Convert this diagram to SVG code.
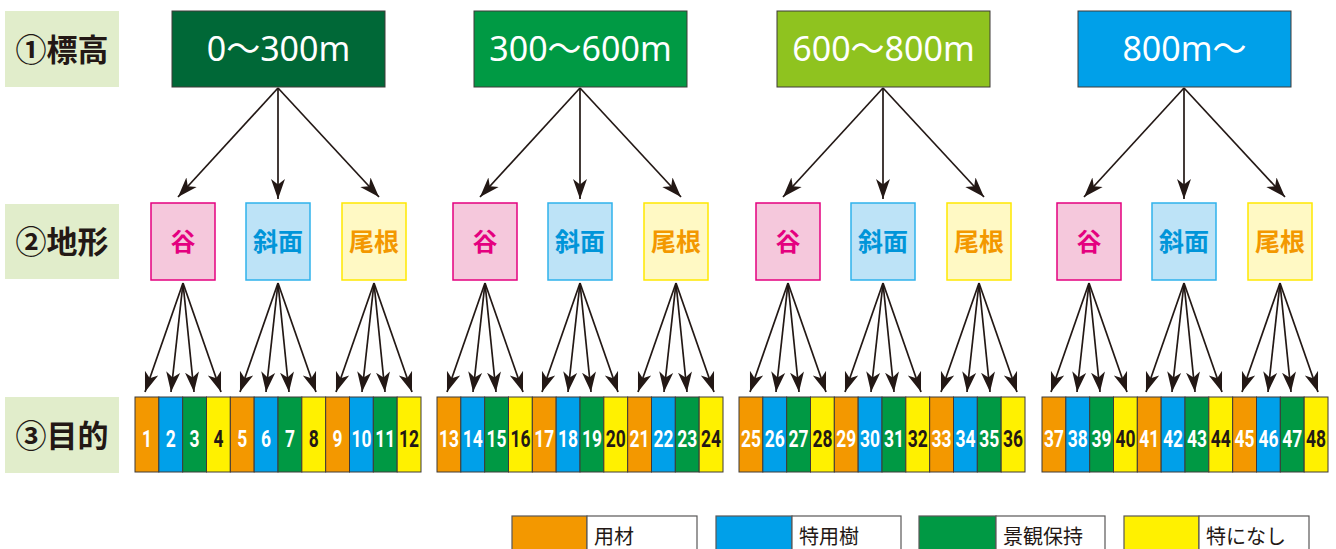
<svg xmlns="http://www.w3.org/2000/svg" width="1336" height="549" viewBox="0 0 1336 549">
<defs>
<style>
.lab{fill:#e1edcb}
.labt{font-family:"Noto Sans CJK JP",sans-serif;font-weight:bold;font-size:31px;fill:#231815;text-anchor:middle}
.top{stroke:#3e3a39;stroke-width:1}
.topt{font-family:"Noto Sans","Noto Sans CJK JP",sans-serif;font-size:34px;fill:#ffffff;text-anchor:middle}
.t2{font-family:"Noto Sans CJK JP",sans-serif;font-weight:bold;font-size:25px;text-anchor:middle}
.tani{fill:#f5c8dc;stroke:#e4007f;stroke-width:1.5}
.sha{fill:#bde3f7;stroke:#2fb2ec;stroke-width:1.5}
.one{fill:#fff9c4;stroke:#ffe800;stroke-width:1.5}
.cell rect{stroke:#3e3a39;stroke-width:1}
.o{fill:#f39800}.b{fill:#00a0e9}.g{fill:#009944}.y{fill:#fff100}
.n{font-family:Roboto,"Liberation Sans",sans-serif;font-weight:bold;font-size:23px;text-anchor:middle}
.w{fill:#ffffff}.k{fill:#231815}
.conn line{stroke:#231815;stroke-width:1.7;marker-end:url(#ah)}
.leg rect{stroke:#595757;stroke-width:1.2}
.legt{font-family:"Noto Sans CJK JP",sans-serif;font-size:20px;fill:#231815}
</style>
<marker id="ah" viewBox="-20 -8 20 16" refX="0" refY="0" markerWidth="20" markerHeight="16" markerUnits="userSpaceOnUse" orient="auto">
<path d="M0,0 L-20,-7 L-14.5,0 L-20,7 z" fill="#231815"/>
</marker>
</defs>
<rect width="1336" height="549" fill="#ffffff"/>

<g id="label1"><rect class="lab" x="5" y="11" width="114" height="76"/><text class="labt" x="62" y="61">①標高</text></g>
<g id="label2"><rect class="lab" x="5" y="204" width="114" height="75"/><text class="labt" x="62" y="253">②地形</text></g>
<g id="label3"><rect class="lab" x="5" y="397" width="114" height="76"/><text class="labt" x="62" y="447">③目的</text></g>

<g id="elev1"><rect class="top" x="172" y="11" width="213" height="76" fill="#006837"/><text class="topt" x="278.5" y="61">0～300m</text></g>
<g id="elev2"><rect class="top" x="474" y="11" width="213" height="76" fill="#009a44"/><text class="topt" x="580.5" y="61">300～600m</text></g>
<g id="elev3"><rect class="top" x="777" y="11" width="213" height="76" fill="#8fc31f"/><text class="topt" x="883.5" y="61">600～800m</text></g>
<g id="elev4"><rect class="top" x="1078" y="11" width="213" height="76" fill="#00a0e9"/><text class="topt" x="1184.5" y="61">800m～</text></g>

<g id="terrain1" transform="translate(0,0)">
<g id="tani1"><rect class="tani" x="151" y="203" width="64" height="77"/><text class="t2" x="183" y="251" fill="#e4007f">谷</text></g>
<g id="shamen1"><rect class="sha" x="246" y="203" width="64" height="77"/><text class="t2" x="278" y="251" fill="#0095d9">斜面</text></g>
<g id="one1"><rect class="one" x="342" y="203" width="64" height="77"/><text class="t2" x="374" y="251" fill="#f39800">尾根</text></g>
</g>
<g id="terrain2" transform="translate(302,0)">
<g id="tani2"><rect class="tani" x="151" y="203" width="64" height="77"/><text class="t2" x="183" y="251" fill="#e4007f">谷</text></g>
<g id="shamen2"><rect class="sha" x="246" y="203" width="64" height="77"/><text class="t2" x="278" y="251" fill="#0095d9">斜面</text></g>
<g id="one2"><rect class="one" x="342" y="203" width="64" height="77"/><text class="t2" x="374" y="251" fill="#f39800">尾根</text></g>
</g>
<g id="terrain3" transform="translate(605,0)">
<g id="tani3"><rect class="tani" x="151" y="203" width="64" height="77"/><text class="t2" x="183" y="251" fill="#e4007f">谷</text></g>
<g id="shamen3"><rect class="sha" x="246" y="203" width="64" height="77"/><text class="t2" x="278" y="251" fill="#0095d9">斜面</text></g>
<g id="one3"><rect class="one" x="342" y="203" width="64" height="77"/><text class="t2" x="374" y="251" fill="#f39800">尾根</text></g>
</g>
<g id="terrain4" transform="translate(906,0)">
<g id="tani4"><rect class="tani" x="151" y="203" width="64" height="77"/><text class="t2" x="183" y="251" fill="#e4007f">谷</text></g>
<g id="shamen4"><rect class="sha" x="246" y="203" width="64" height="77"/><text class="t2" x="278" y="251" fill="#0095d9">斜面</text></g>
<g id="one4"><rect class="one" x="342" y="203" width="64" height="77"/><text class="t2" x="374" y="251" fill="#f39800">尾根</text></g>
</g>

<g id="cells1" class="cell" transform="translate(0,0)">
<g id="c1"><rect class="o" x="135" y="397" width="23.83" height="75"/><text class="n w" x="146.9" y="447" textLength="10" lengthAdjust="spacingAndGlyphs">1</text></g>
<g id="c2"><rect class="b" x="158.83" y="397" width="23.83" height="75"/><text class="n w" x="170.7" y="447" textLength="10" lengthAdjust="spacingAndGlyphs">2</text></g>
<g id="c3"><rect class="g" x="182.67" y="397" width="23.83" height="75"/><text class="n w" x="194.6" y="447" textLength="10" lengthAdjust="spacingAndGlyphs">3</text></g>
<g id="c4"><rect class="y" x="206.5" y="397" width="23.83" height="75"/><text class="n k" x="218.4" y="447" textLength="10" lengthAdjust="spacingAndGlyphs">4</text></g>
<g id="c5"><rect class="o" x="230.33" y="397" width="23.83" height="75"/><text class="n w" x="242.2" y="447" textLength="10" lengthAdjust="spacingAndGlyphs">5</text></g>
<g id="c6"><rect class="b" x="254.17" y="397" width="23.83" height="75"/><text class="n w" x="266.1" y="447" textLength="10" lengthAdjust="spacingAndGlyphs">6</text></g>
<g id="c7"><rect class="g" x="278" y="397" width="23.83" height="75"/><text class="n w" x="289.9" y="447" textLength="10" lengthAdjust="spacingAndGlyphs">7</text></g>
<g id="c8"><rect class="y" x="301.83" y="397" width="23.83" height="75"/><text class="n k" x="313.7" y="447" textLength="10" lengthAdjust="spacingAndGlyphs">8</text></g>
<g id="c9"><rect class="o" x="325.67" y="397" width="23.83" height="75"/><text class="n w" x="337.6" y="447" textLength="10" lengthAdjust="spacingAndGlyphs">9</text></g>
<g id="c10"><rect class="b" x="349.5" y="397" width="23.83" height="75"/><text class="n w" x="361.4" y="447" textLength="20" lengthAdjust="spacingAndGlyphs">10</text></g>
<g id="c11"><rect class="g" x="373.33" y="397" width="23.83" height="75"/><text class="n w" x="385.2" y="447" textLength="20" lengthAdjust="spacingAndGlyphs">11</text></g>
<g id="c12"><rect class="y" x="397.17" y="397" width="23.83" height="75"/><text class="n k" x="409.1" y="447" textLength="20" lengthAdjust="spacingAndGlyphs">12</text></g>
</g>
<g id="cells2" class="cell" transform="translate(302,0)">
<g id="c13"><rect class="o" x="135" y="397" width="23.83" height="75"/><text class="n w" x="146.9" y="447" textLength="20" lengthAdjust="spacingAndGlyphs">13</text></g>
<g id="c14"><rect class="b" x="158.83" y="397" width="23.83" height="75"/><text class="n w" x="170.7" y="447" textLength="20" lengthAdjust="spacingAndGlyphs">14</text></g>
<g id="c15"><rect class="g" x="182.67" y="397" width="23.83" height="75"/><text class="n w" x="194.6" y="447" textLength="20" lengthAdjust="spacingAndGlyphs">15</text></g>
<g id="c16"><rect class="y" x="206.5" y="397" width="23.83" height="75"/><text class="n k" x="218.4" y="447" textLength="20" lengthAdjust="spacingAndGlyphs">16</text></g>
<g id="c17"><rect class="o" x="230.33" y="397" width="23.83" height="75"/><text class="n w" x="242.2" y="447" textLength="20" lengthAdjust="spacingAndGlyphs">17</text></g>
<g id="c18"><rect class="b" x="254.17" y="397" width="23.83" height="75"/><text class="n w" x="266.1" y="447" textLength="20" lengthAdjust="spacingAndGlyphs">18</text></g>
<g id="c19"><rect class="g" x="278" y="397" width="23.83" height="75"/><text class="n w" x="289.9" y="447" textLength="20" lengthAdjust="spacingAndGlyphs">19</text></g>
<g id="c20"><rect class="y" x="301.83" y="397" width="23.83" height="75"/><text class="n k" x="313.7" y="447" textLength="20" lengthAdjust="spacingAndGlyphs">20</text></g>
<g id="c21"><rect class="o" x="325.67" y="397" width="23.83" height="75"/><text class="n w" x="337.6" y="447" textLength="20" lengthAdjust="spacingAndGlyphs">21</text></g>
<g id="c22"><rect class="b" x="349.5" y="397" width="23.83" height="75"/><text class="n w" x="361.4" y="447" textLength="20" lengthAdjust="spacingAndGlyphs">22</text></g>
<g id="c23"><rect class="g" x="373.33" y="397" width="23.83" height="75"/><text class="n w" x="385.2" y="447" textLength="20" lengthAdjust="spacingAndGlyphs">23</text></g>
<g id="c24"><rect class="y" x="397.17" y="397" width="23.83" height="75"/><text class="n k" x="409.1" y="447" textLength="20" lengthAdjust="spacingAndGlyphs">24</text></g>
</g>
<g id="cells3" class="cell" transform="translate(604,0)">
<g id="c25"><rect class="o" x="135" y="397" width="23.83" height="75"/><text class="n w" x="146.9" y="447" textLength="20" lengthAdjust="spacingAndGlyphs">25</text></g>
<g id="c26"><rect class="b" x="158.83" y="397" width="23.83" height="75"/><text class="n w" x="170.7" y="447" textLength="20" lengthAdjust="spacingAndGlyphs">26</text></g>
<g id="c27"><rect class="g" x="182.67" y="397" width="23.83" height="75"/><text class="n w" x="194.6" y="447" textLength="20" lengthAdjust="spacingAndGlyphs">27</text></g>
<g id="c28"><rect class="y" x="206.5" y="397" width="23.83" height="75"/><text class="n k" x="218.4" y="447" textLength="20" lengthAdjust="spacingAndGlyphs">28</text></g>
<g id="c29"><rect class="o" x="230.33" y="397" width="23.83" height="75"/><text class="n w" x="242.2" y="447" textLength="20" lengthAdjust="spacingAndGlyphs">29</text></g>
<g id="c30"><rect class="b" x="254.17" y="397" width="23.83" height="75"/><text class="n w" x="266.1" y="447" textLength="20" lengthAdjust="spacingAndGlyphs">30</text></g>
<g id="c31"><rect class="g" x="278" y="397" width="23.83" height="75"/><text class="n w" x="289.9" y="447" textLength="20" lengthAdjust="spacingAndGlyphs">31</text></g>
<g id="c32"><rect class="y" x="301.83" y="397" width="23.83" height="75"/><text class="n k" x="313.7" y="447" textLength="20" lengthAdjust="spacingAndGlyphs">32</text></g>
<g id="c33"><rect class="o" x="325.67" y="397" width="23.83" height="75"/><text class="n w" x="337.6" y="447" textLength="20" lengthAdjust="spacingAndGlyphs">33</text></g>
<g id="c34"><rect class="b" x="349.5" y="397" width="23.83" height="75"/><text class="n w" x="361.4" y="447" textLength="20" lengthAdjust="spacingAndGlyphs">34</text></g>
<g id="c35"><rect class="g" x="373.33" y="397" width="23.83" height="75"/><text class="n w" x="385.2" y="447" textLength="20" lengthAdjust="spacingAndGlyphs">35</text></g>
<g id="c36"><rect class="y" x="397.17" y="397" width="23.83" height="75"/><text class="n k" x="409.1" y="447" textLength="20" lengthAdjust="spacingAndGlyphs">36</text></g>
</g>
<g id="cells4" class="cell" transform="translate(907,0)">
<g id="c37"><rect class="o" x="135" y="397" width="23.83" height="75"/><text class="n w" x="146.9" y="447" textLength="20" lengthAdjust="spacingAndGlyphs">37</text></g>
<g id="c38"><rect class="b" x="158.83" y="397" width="23.83" height="75"/><text class="n w" x="170.7" y="447" textLength="20" lengthAdjust="spacingAndGlyphs">38</text></g>
<g id="c39"><rect class="g" x="182.67" y="397" width="23.83" height="75"/><text class="n w" x="194.6" y="447" textLength="20" lengthAdjust="spacingAndGlyphs">39</text></g>
<g id="c40"><rect class="y" x="206.5" y="397" width="23.83" height="75"/><text class="n k" x="218.4" y="447" textLength="20" lengthAdjust="spacingAndGlyphs">40</text></g>
<g id="c41"><rect class="o" x="230.33" y="397" width="23.83" height="75"/><text class="n w" x="242.2" y="447" textLength="20" lengthAdjust="spacingAndGlyphs">41</text></g>
<g id="c42"><rect class="b" x="254.17" y="397" width="23.83" height="75"/><text class="n w" x="266.1" y="447" textLength="20" lengthAdjust="spacingAndGlyphs">42</text></g>
<g id="c43"><rect class="g" x="278" y="397" width="23.83" height="75"/><text class="n w" x="289.9" y="447" textLength="20" lengthAdjust="spacingAndGlyphs">43</text></g>
<g id="c44"><rect class="y" x="301.83" y="397" width="23.83" height="75"/><text class="n k" x="313.7" y="447" textLength="20" lengthAdjust="spacingAndGlyphs">44</text></g>
<g id="c45"><rect class="o" x="325.67" y="397" width="23.83" height="75"/><text class="n w" x="337.6" y="447" textLength="20" lengthAdjust="spacingAndGlyphs">45</text></g>
<g id="c46"><rect class="b" x="349.5" y="397" width="23.83" height="75"/><text class="n w" x="361.4" y="447" textLength="20" lengthAdjust="spacingAndGlyphs">46</text></g>
<g id="c47"><rect class="g" x="373.33" y="397" width="23.83" height="75"/><text class="n w" x="385.2" y="447" textLength="20" lengthAdjust="spacingAndGlyphs">47</text></g>
<g id="c48"><rect class="y" x="397.17" y="397" width="23.83" height="75"/><text class="n k" x="409.1" y="447" textLength="20" lengthAdjust="spacingAndGlyphs">48</text></g>
</g>

<g id="connectors" class="conn">
<g transform="translate(0,0)">
<line x1="278" y1="88" x2="178" y2="197"/><line x1="278" y1="88" x2="278" y2="199"/><line x1="278" y1="88" x2="379" y2="197"/>
<line x1="183" y1="283" x2="145" y2="392"/><line x1="183" y1="283" x2="171" y2="392"/><line x1="183" y1="283" x2="194" y2="392"/><line x1="183" y1="283" x2="221" y2="392"/>
<line x1="278" y1="283" x2="240" y2="392"/><line x1="278" y1="283" x2="266" y2="392"/><line x1="278" y1="283" x2="289" y2="392"/><line x1="278" y1="283" x2="316" y2="392"/>
<line x1="374" y1="283" x2="336" y2="392"/><line x1="374" y1="283" x2="362" y2="392"/><line x1="374" y1="283" x2="385" y2="392"/><line x1="374" y1="283" x2="412" y2="392"/>
</g>
<g transform="translate(302,0)">
<line x1="278" y1="88" x2="178" y2="197"/><line x1="278" y1="88" x2="278" y2="199"/><line x1="278" y1="88" x2="379" y2="197"/>
<line x1="183" y1="283" x2="145" y2="392"/><line x1="183" y1="283" x2="171" y2="392"/><line x1="183" y1="283" x2="194" y2="392"/><line x1="183" y1="283" x2="221" y2="392"/>
<line x1="278" y1="283" x2="240" y2="392"/><line x1="278" y1="283" x2="266" y2="392"/><line x1="278" y1="283" x2="289" y2="392"/><line x1="278" y1="283" x2="316" y2="392"/>
<line x1="374" y1="283" x2="336" y2="392"/><line x1="374" y1="283" x2="362" y2="392"/><line x1="374" y1="283" x2="385" y2="392"/><line x1="374" y1="283" x2="412" y2="392"/>
</g>
<g transform="translate(605,0)">
<line x1="278" y1="88" x2="178" y2="197"/><line x1="278" y1="88" x2="278" y2="199"/><line x1="278" y1="88" x2="379" y2="197"/>
<line x1="183" y1="283" x2="145" y2="392"/><line x1="183" y1="283" x2="171" y2="392"/><line x1="183" y1="283" x2="194" y2="392"/><line x1="183" y1="283" x2="221" y2="392"/>
<line x1="278" y1="283" x2="240" y2="392"/><line x1="278" y1="283" x2="266" y2="392"/><line x1="278" y1="283" x2="289" y2="392"/><line x1="278" y1="283" x2="316" y2="392"/>
<line x1="374" y1="283" x2="336" y2="392"/><line x1="374" y1="283" x2="362" y2="392"/><line x1="374" y1="283" x2="385" y2="392"/><line x1="374" y1="283" x2="412" y2="392"/>
</g>
<g transform="translate(906,0)">
<line x1="278" y1="88" x2="178" y2="197"/><line x1="278" y1="88" x2="278" y2="199"/><line x1="278" y1="88" x2="379" y2="197"/>
<line x1="183" y1="283" x2="145" y2="392"/><line x1="183" y1="283" x2="171" y2="392"/><line x1="183" y1="283" x2="194" y2="392"/><line x1="183" y1="283" x2="221" y2="392"/>
<line x1="278" y1="283" x2="240" y2="392"/><line x1="278" y1="283" x2="266" y2="392"/><line x1="278" y1="283" x2="289" y2="392"/><line x1="278" y1="283" x2="316" y2="392"/>
<line x1="374" y1="283" x2="336" y2="392"/><line x1="374" y1="283" x2="362" y2="392"/><line x1="374" y1="283" x2="385" y2="392"/><line x1="374" y1="283" x2="412" y2="392"/>
</g>
</g>

<g id="legend" class="leg">
<g id="leg1"><rect x="512" y="516" width="75" height="40" fill="#f39800"/><rect x="587" y="516" width="110" height="40" fill="#ffffff"/><text class="legt" x="594" y="544">用材</text></g>
<g id="leg2"><rect x="716" y="516" width="76" height="40" fill="#00a0e9"/><rect x="792" y="516" width="109" height="40" fill="#ffffff"/><text class="legt" x="799" y="544">特用樹</text></g>
<g id="leg3"><rect x="919" y="516" width="77" height="40" fill="#009944"/><rect x="996" y="516" width="109" height="40" fill="#ffffff"/><text class="legt" x="1003" y="544">景観保持</text></g>
<g id="leg4"><rect x="1124" y="516" width="75" height="40" fill="#fff100"/><rect x="1199" y="516" width="110" height="40" fill="#ffffff"/><text class="legt" x="1206" y="544">特になし</text></g>
</g>
</svg>
